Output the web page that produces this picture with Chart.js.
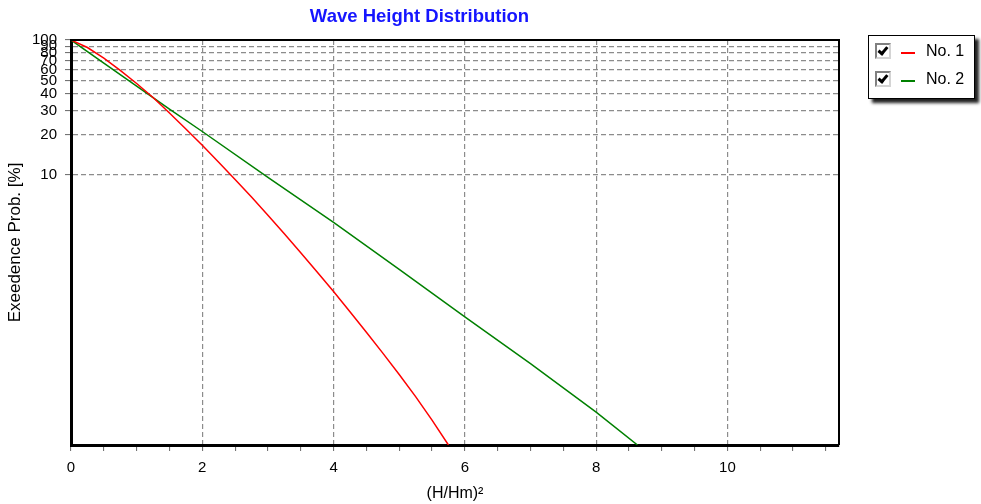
<!DOCTYPE html>
<html>
<head>
<meta charset="utf-8">
<script src="https://cdn.jsdelivr.net/npm/chart.js@4.4.0/dist/chart.umd.min.js"></script>
<style>
  body { margin: 0; background: #fff; font-family: 'Liberation Sans', Arial, sans-serif; }
  #wrap { position: relative; width: 981px; height: 504px; }
  #legend {
    position: absolute; left: 868px; top: 35px; width: 105px; height: 62px;
    border: 1px solid #000; background: #fff; box-shadow: 4px 4px 3px #222;
  }
  .row { position: absolute; left: 6px; height: 16px; }
  .box {
    position: absolute; left: 0; top: 0; width: 12px; height: 12px; background: #fff;
    border: 2px solid; border-color: #808080 #d4d4d4 #d4d4d4 #808080;
  }
  .box::after {
    content: ''; position: absolute; left: 3px; top: 0px; width: 3px; height: 7px;
    border: solid #000; border-width: 0 3px 3px 0; transform: rotate(40deg);
  }
  .swatch { position: absolute; left: 26px; top: 9px; width: 14px; height: 2px; }
  .lbl { position: absolute; left: 51px; top: -1px; font-size: 16px; color: #000; white-space: nowrap; }
</style>
</head>
<body>
<div id="wrap">
  <canvas id="chart" width="981" height="504"></canvas>
  <div id="legend"></div>
</div>
<script>
// series, x = (H/Hm)^2, y = exceedence probability in %
const seriesNames = ['No. 1', 'No. 2'];
const seriesColors = ['#ff0000', '#008000'];

const redX = [0, 0.25, 0.5, 0.75, 1, 1.25, 1.5, 1.75, 2, 2.25, 2.5, 2.75, 3, 3.25, 3.5, 3.75, 4, 4.25, 4.5, 4.75, 5, 5.25, 5.5, 5.75];
const redY = [100, 88, 73.5, 59.5, 47.6, 37.5, 28.8, 21.9, 16.6, 12.45, 9.27, 6.86, 5.04, 3.67, 2.66, 1.91, 1.37, 0.97, 0.684, 0.479, 0.333, 0.228, 0.153, 0.1];

const greenX = [0, 0.5, 1, 1.5, 2, 3, 4, 5, 6, 7, 8, 8.63];
const greenY = [100, 67.5, 45.6, 30.8, 21, 9.6, 4.45, 2.0, 0.89, 0.4, 0.175, 0.1];

const xLabels = [0, 2, 4, 6, 8, 10];
const yLabels = [10, 20, 30, 40, 50, 60, 70, 80, 90, 100];

const FONT = "'Liberation Sans', Arial, sans-serif";

const toPoints = (xs, ys) => xs.map((x, i) => ({ x: x, y: ys[i] }));

// top and right edges of the plot box
const frame = {
  id: 'frame',
  afterDatasetsDraw(chart) {
    const { ctx, chartArea: a } = chart;
    ctx.save();
    ctx.strokeStyle = '#000';
    ctx.lineWidth = 2;
    ctx.beginPath();
    ctx.moveTo(a.left, a.top);
    ctx.lineTo(a.right, a.top);
    ctx.lineTo(a.right, a.bottom);
    ctx.stroke();
    ctx.restore();
  }
};

new Chart(document.getElementById('chart'), {
  type: 'scatter',
  data: {
    datasets: [
      {
        label: seriesNames[0],
        data: toPoints(redX, redY),
        showLine: true,
        borderColor: seriesColors[0],
        borderWidth: 1.5,
        pointRadius: 0,
        tension: 0
      },
      {
        label: seriesNames[1],
        data: toPoints(greenX, greenY),
        showLine: true,
        borderColor: seriesColors[1],
        borderWidth: 1.5,
        pointRadius: 0,
        tension: 0
      }
    ]
  },
  options: {
    responsive: false,
    animation: false,
    layout: { padding: { left: 0, right: 142, top: 0, bottom: 0 } },
    plugins: {
      legend: { display: false },
      tooltip: { enabled: false },
      title: {
        display: true,
        text: 'Wave Height Distribution',
        color: '#1515ff',
        font: { family: FONT, size: 18.5, weight: 'bold' },
        padding: { top: 6, bottom: 11.8 }
      }
    },
    scales: {
      x: {
        type: 'linear',
        min: 0,
        max: 11.7,
        afterBuildTicks: (scale) => {
          const t = [];
          for (let v = 0; v <= 11.5; v += 0.5) t.push({ value: v });
          scale.ticks = t;
        },
        afterFit: (scale) => { scale.height = 59; },
        ticks: {
          autoSkip: false,
          maxRotation: 0,
          padding: 8,
          color: '#000',
          font: { family: FONT, size: 15 },
          callback: (v) => (xLabels.includes(v) ? String(v) : '')
        },
        grid: {
          color: (c) => (c.tick && xLabels.includes(c.tick.value) && c.tick.value > 0 ? '#8c8c8c' : 'rgba(0,0,0,0)'),
          lineWidth: 1.2,
          tickColor: '#666',
          tickLength: 6,
          tickWidth: 1
        },
        border: { color: '#000', width: 3, dash: [5, 3] },
        title: {
          display: true,
          text: '(H/Hm)²',
          color: '#000',
          font: { family: FONT, size: 16 },
          padding: { top: 0, bottom: 1 }
        }
      },
      y: {
        type: 'logarithmic',
        min: 0.1,
        max: 100,
        afterBuildTicks: (scale) => {
          scale.ticks = yLabels.map((v) => ({ value: v }));
        },
        afterFit: (scale) => { scale.width = 71; },
        ticks: {
          autoSkip: false,
          padding: 8,
          color: '#000',
          font: { family: FONT, size: 15 },
          callback: (v) => String(v)
        },
        grid: {
          color: (c) => (c.tick && c.tick.value < 100 ? '#8c8c8c' : 'rgba(0,0,0,0)'),
          lineWidth: 1.2,
          tickColor: '#666',
          tickLength: 6,
          tickWidth: 1
        },
        border: { color: '#000', width: 3, dash: [5, 3] },
        title: {
          display: true,
          text: 'Exeedence Prob. [%]',
          color: '#000',
          font: { family: FONT, size: 17 },
          padding: { top: 5, bottom: 0 }
        }
      }
    }
  },
  plugins: [frame]
});

// legend with check boxes, like the original control
const legend = document.getElementById('legend');
seriesNames.forEach((name, i) => {
  const row = document.createElement('div');
  row.className = 'row';
  row.style.top = (7 + i * 28) + 'px';
  row.innerHTML = '<span class="box"></span>' +
    '<span class="swatch" style="background:' + seriesColors[i] + '"></span>' +
    '<span class="lbl">' + name + '</span>';
  legend.appendChild(row);
});
</script>
</body>
</html>
